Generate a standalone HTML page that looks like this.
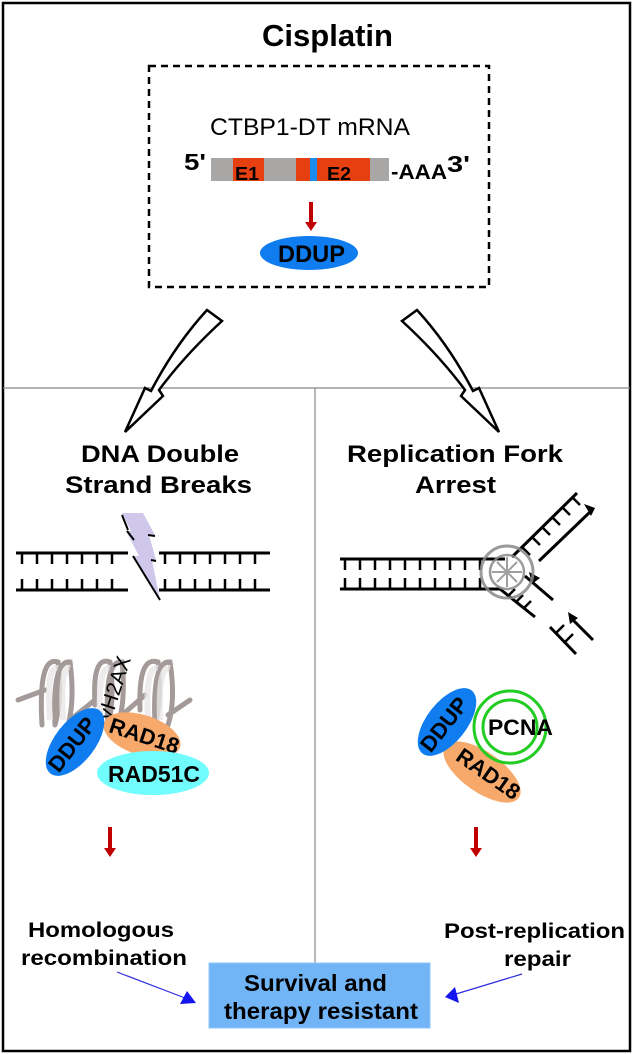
<!DOCTYPE html>
<html><head><meta charset="utf-8"><style>
html,body{margin:0;padding:0;background:#fff}
svg{display:block}
text{font-family:"Liberation Sans",Arial,sans-serif;font-weight:bold;fill:#000}
</style></head><body>
<svg width="633" height="1054" viewBox="0 0 633 1054" xmlns="http://www.w3.org/2000/svg">
<rect x="3" y="3" width="627" height="1048" fill="#fff" stroke="#000" stroke-width="2.5"/>
<line x1="3" y1="388" x2="630" y2="388" stroke="#888" stroke-width="1.2"/>
<line x1="315" y1="388" x2="315" y2="963" stroke="#888" stroke-width="1.2"/>
<text x="262" y="46" font-size="31" textLength="131" lengthAdjust="spacingAndGlyphs">Cisplatin</text>
<rect x="149" y="66" width="340" height="221" fill="none" stroke="#000" stroke-width="2.5" stroke-dasharray="7,5"/>
<text x="210" y="135" font-size="24" style="font-weight:normal" textLength="200" lengthAdjust="spacingAndGlyphs">CTBP1-DT mRNA</text>
<rect x="211" y="158" width="178" height="23" fill="#a9a6a6"/>
<rect x="233" y="158" width="31" height="23" fill="#e64010"/>
<rect x="296" y="158" width="74" height="23" fill="#e64010"/>
<rect x="310" y="158" width="7" height="23" fill="#1a8cf0"/>
<text x="235" y="180" font-size="18" textLength="24" lengthAdjust="spacingAndGlyphs">E1</text>
<text x="327" y="180" font-size="18" textLength="24" lengthAdjust="spacingAndGlyphs">E2</text>
<text x="184" y="170" font-size="23" textLength="22" lengthAdjust="spacingAndGlyphs">5'</text>
<text x="391" y="179" font-size="21" textLength="56" lengthAdjust="spacingAndGlyphs">-AAA</text>
<text x="447" y="172" font-size="23" textLength="23" lengthAdjust="spacingAndGlyphs">3'</text>
<line x1="311" y1="202" x2="311" y2="224" stroke="#c00000" stroke-width="4"/>
<polygon points="305,222 317,222 311,231" fill="#c00000"/>
<ellipse cx="309" cy="253" rx="49" ry="17" fill="#0f7cef"/>
<text x="278" y="262" font-size="24" textLength="67" lengthAdjust="spacingAndGlyphs">DDUP</text>
<path d="M207,310 L222,321 Q185,355 159,390 L163,396 L125,432 L145,388 L151,391 Q175,345 207,310 Z" fill="#fff" stroke="#000" stroke-width="2.5"/>
<path d="M417,310 L402,321 Q439,355 465,390 L461,396 L499,432 L479,388 L473,391 Q449,345 417,310 Z" fill="#fff" stroke="#000" stroke-width="2.5"/>
<text x="81" y="462" font-size="24" textLength="158" lengthAdjust="spacingAndGlyphs">DNA Double</text>
<text x="65" y="493" font-size="24" textLength="187" lengthAdjust="spacingAndGlyphs">Strand Breaks</text>
<text x="347" y="462" font-size="24" textLength="216" lengthAdjust="spacingAndGlyphs">Replication Fork</text>
<text x="415" y="493" font-size="24" textLength="81" lengthAdjust="spacingAndGlyphs">Arrest</text>
<g stroke="#000" stroke-width="3">
<line x1="16" y1="553" x2="128" y2="553"/><line x1="16" y1="590" x2="128" y2="590"/>
<line x1="159" y1="553" x2="270" y2="553"/><line x1="159" y1="590" x2="270" y2="590"/>
</g>
<g stroke="#000" stroke-width="2.5">
<path d="M22,553v11M37,553v11M52,553v11M67,553v11M82,553v11M97,553v11M112,553v11M165,553v11M180,553v11M195,553v11M210,553v11M225,553v11M240,553v11M255,553v11M22,590v-11M37,590v-11M52,590v-11M67,590v-11M82,590v-11M97,590v-11M112,590v-11M165,590v-11M180,590v-11M195,590v-11M210,590v-11M225,590v-11M240,590v-11M255,590v-11"/>
</g>
<polygon points="122,513 143,513 155,535 149,535 156,560 152,560 160,600 134,556 139,556 126,531 131,531" fill="#cfc8ea"/>
<path d="M122,515 L128,530 M127,531 L134,540 M133,556 L160,600 M148,535 L155,536 M151,560 L156,561" stroke="#000" stroke-width="2"/>
<g stroke="#000" stroke-width="3" fill="none">
<line x1="340" y1="559" x2="505" y2="559"/><line x1="340" y1="589" x2="500" y2="589"/>
<line x1="512" y1="557" x2="577" y2="493"/>
<line x1="539" y1="561" x2="590" y2="512"/>
<line x1="500" y1="589" x2="535" y2="617"/>
<line x1="525" y1="576" x2="553" y2="600"/>
<line x1="550" y1="627" x2="576" y2="654"/>
<line x1="570" y1="617" x2="593" y2="640"/>
</g>
<g stroke="#000" stroke-width="2.5">
<path d="M345,559v11M360,559v11M375,559v11M390,559v11M405,559v11M420,559v11M435,559v11M450,559v11M465,559v11M480,559v11M345,589v-11M360,589v-11M375,589v-11M390,589v-11M405,589v-11M420,589v-11M435,589v-11M450,589v-11M465,589v-11M480,589v-11"/>
<path d="M522,547l8,8M532,537l8,8M542,527l8,8M552,517l8,8M562,507l8,8M572,497l8,8"/>
<path d="M508,596l7,-7M516,602l7,-7M524,608l7,-7M556,633l8,-8M565,642l8,-8"/>
</g>
<polygon points="595,508 584,504 591,516" fill="#000"/>
<polygon points="529,572 532,584 540,578" fill="#000"/>
<polygon points="568,612 570,624 578,618" fill="#000"/>
<circle cx="507" cy="572" r="26" fill="none" stroke="#888" stroke-width="3" opacity="0.85"/>
<circle cx="507" cy="572" r="17" fill="none" stroke="#888" stroke-width="2.5" opacity="0.85"/>
<path d="M497,562l20,20M517,562l-20,20M507,557v30M492,572h30" stroke="#888" stroke-width="2" opacity="0.8"/>
<g fill="none" stroke="#a49a9a" stroke-width="5" stroke-linecap="round">
<path d="M18,700 L45,690 M42,725 Q38,655 58,662 Q62,700 55,725 M55,725 Q52,660 70,662 Q75,700 68,725 M70,720 L95,700"/>
<path d="M95,705 Q92,655 110,662 Q115,700 108,725 M108,725 Q104,660 122,662 Q126,700 118,725 M122,715 L145,695"/>
<path d="M140,710 Q138,655 158,662 Q162,700 155,725 M155,725 Q152,660 170,662 Q176,700 168,725 M168,715 L190,700"/>
</g>
<g fill="none" stroke="#e8e6e6" stroke-width="6" opacity="0.8">
<path d="M50,720 Q46,665 58,668M63,720 Q60,665 70,668M100,720 Q98,665 110,668M148,720 Q145,665 158,668M160,720 Q158,665 170,668"/>
</g>
<text font-size="21" style="font-weight:normal" transform="translate(121,690) rotate(-72)" text-anchor="middle">γH2AX</text>
<ellipse cx="0" cy="0" rx="40" ry="20" fill="#f6a96a" transform="translate(142,735) rotate(18)"/>
<text font-size="22" text-anchor="middle" transform="translate(142,743) rotate(18)">RAD18</text>
<ellipse cx="0" cy="0" rx="40" ry="20" fill="#0f7cef" transform="translate(75,742) rotate(-52)"/>
<text font-size="22" text-anchor="middle" transform="translate(78,749) rotate(-52)">DDUP</text>
<ellipse cx="153" cy="773" rx="56" ry="22" fill="#71fdfd"/>
<text x="108" y="782" font-size="23" textLength="92" lengthAdjust="spacingAndGlyphs">RAD51C</text>
<ellipse cx="0" cy="0" rx="45" ry="20" fill="#f6a96a" transform="translate(482,772) rotate(35)"/>
<text font-size="22" text-anchor="middle" transform="translate(484,780) rotate(35)">RAD18</text>
<ellipse cx="0" cy="0" rx="40" ry="20" fill="#0f7cef" transform="translate(447,722) rotate(-52)"/>
<text font-size="22" text-anchor="middle" transform="translate(450,729) rotate(-52)">DDUP</text>
<circle cx="510" cy="727" r="36" fill="none" stroke="#22cc22" stroke-width="3"/>
<circle cx="510" cy="727" r="27" fill="none" stroke="#22cc22" stroke-width="3"/>
<text x="488" y="735" font-size="22" textLength="65" lengthAdjust="spacingAndGlyphs">PCNA</text>
<line x1="110" y1="827" x2="110" y2="850" stroke="#c00000" stroke-width="4"/>
<polygon points="104,848 116,848 110,857" fill="#c00000"/>
<line x1="476" y1="827" x2="476" y2="850" stroke="#c00000" stroke-width="4"/>
<polygon points="470,848 482,848 476,857" fill="#c00000"/>
<text x="28" y="937" font-size="21" textLength="146" lengthAdjust="spacingAndGlyphs">Homologous</text>
<text x="21" y="965" font-size="21" textLength="166" lengthAdjust="spacingAndGlyphs">recombination</text>
<text x="444" y="938" font-size="21" textLength="181" lengthAdjust="spacingAndGlyphs">Post-replication</text>
<text x="504" y="966" font-size="21" textLength="67" lengthAdjust="spacingAndGlyphs">repair</text>
<rect x="209" y="963" width="221" height="65" fill="#72b5f7" stroke="#8cc4f8" stroke-width="1"/>
<text x="244" y="991" font-size="23" textLength="143" lengthAdjust="spacingAndGlyphs">Survival and</text>
<text x="224" y="1019" font-size="23" textLength="194" lengthAdjust="spacingAndGlyphs">therapy resistant</text>
<line x1="117" y1="972" x2="185" y2="998" stroke="#3030e0" stroke-width="1.2"/>
<polygon points="196,1003 180,1004 187,991" fill="#1515f0"/>
<line x1="522" y1="974" x2="456" y2="994" stroke="#3030e0" stroke-width="1.2"/>
<polygon points="445,997 455,987 459,1003" fill="#1515f0"/>
</svg>
</body></html>
